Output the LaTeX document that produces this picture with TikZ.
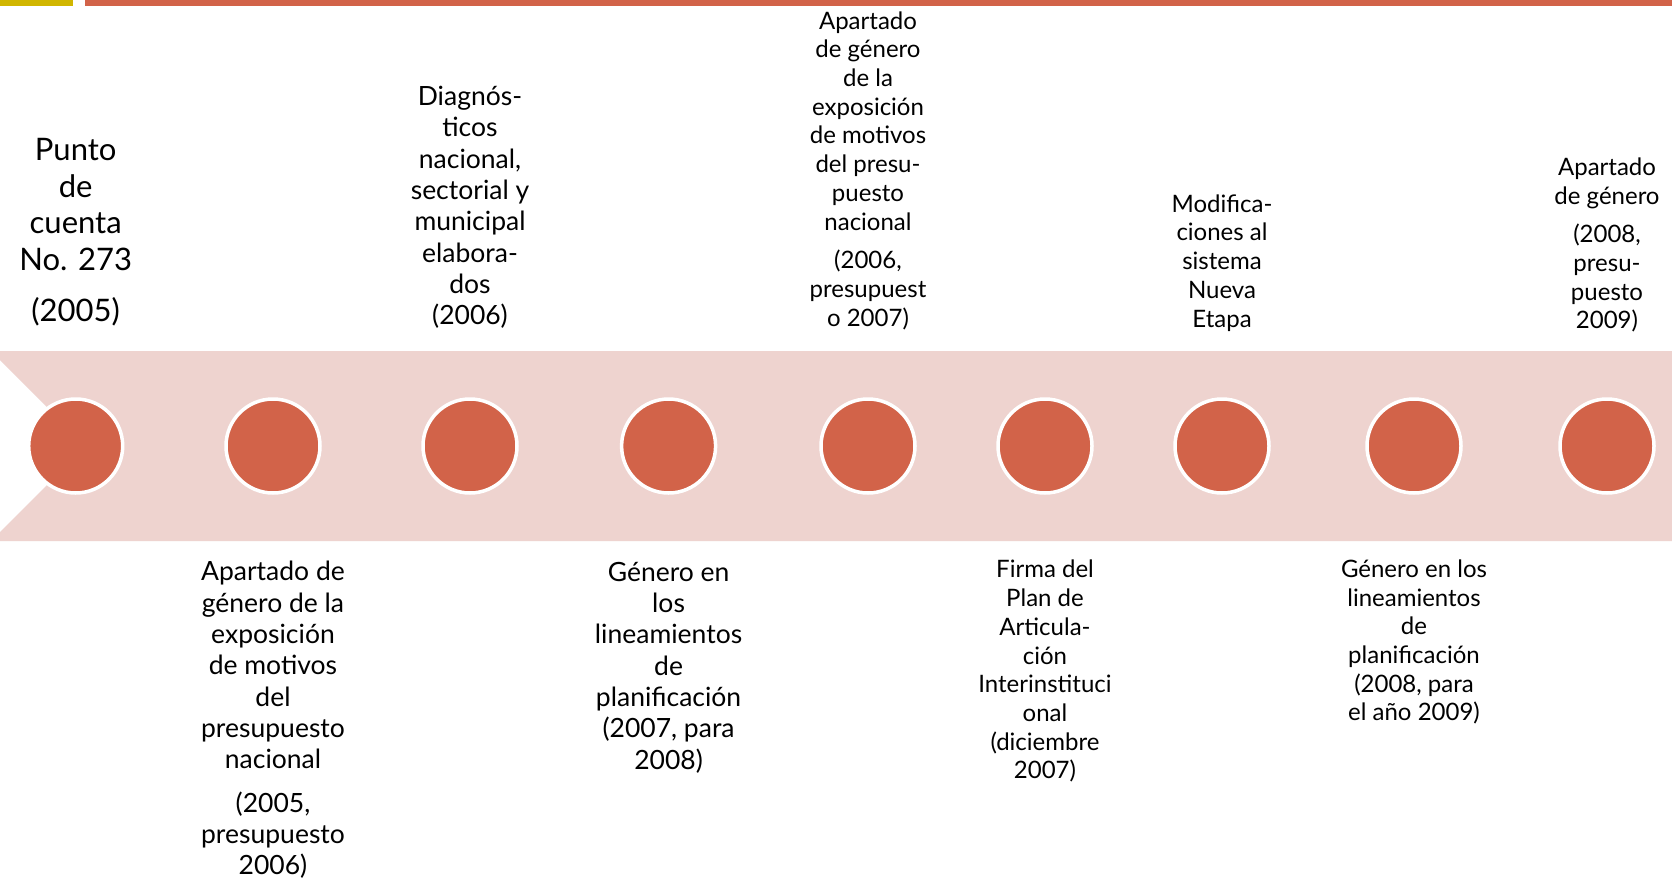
\documentclass[tikz,border=0pt]{standalone}
\usepackage{fontspec}
\setmainfont{Lato}
\definecolor{oriel}{HTML}{D26349}
\definecolor{bandc}{HTML}{EED3CF}
\definecolor{goldc}{HTML}{D1B600}
\tikzset{
  dot/.style={circle, fill=oriel, draw=white, line width=3.5pt, minimum size=94pt, inner sep=0pt},
  lbl/.style={align=center, text=black, inner sep=0pt},
  fa/.style={font=\fontsize{31}{36.6}\selectfont},
  fb/.style={font=\fontsize{26.5}{31.3}\selectfont},
  fc/.style={font=\fontsize{24}{28.7}\selectfont}
}
\begin{document}
\begin{tikzpicture}[x=1pt,y=-1pt]
\useasboundingbox (0,0) rectangle (1672,881);
\fill[white] (0,0) rectangle (1672,881);
\fill[goldc] (0,0) rectangle (73,6);
\fill[oriel] (85,0) rectangle (1672,6);
\fill[bandc] (0,351) -- (1672,351) -- (1672,541) -- (0,541) -- (0,532) -- (86,446) -- (0,360) -- cycle;
\foreach \n/\x in {1/75.7,2/273,3/470,4/668.6,5/868,6/1045,7/1222,8/1414,9/1607}
  \node[dot] (c\n) at (\x,446) {};
\node[lbl,fa] (t1) at (75.7,232) {Punto\\de\\cuenta\\No. 273\\[14pt](2005)};
\node[lbl,fb] (t2) at (273,720) {Apartado de\\género de la\\exposición\\de motivos\\del\\presupuesto\\nacional\\[12pt](2005,\\presupuesto\\2006)};
\node[lbl,fb] (t3) at (470,207.5) {Diagnós-\\ticos\\nacional,\\sectorial y\\municipal\\elabora-\\dos\\(2006)};
\node[lbl,fb] (t4) at (668.6,667.5) {Género en\\los\\lineamientos\\de\\planificación\\(2007, para\\2008)};
\node[lbl,fc] (t5) at (868,170.6) {Apartado\\de género\\de la\\exposición\\de motivos\\del presu-\\puesto\\nacional\\[10pt](2006,\\presupuest\\o 2007)};
\node[lbl,fc] (t6) at (1045,671.3) {Firma del\\Plan de\\Articula-\\ción\\Interinstituci\\onal\\(diciembre\\2007)};
\node[lbl,fc] (t7) at (1222,262.9) {Modifica-\\ciones al\\sistema\\Nueva\\Etapa};
\node[lbl,fc] (t8) at (1414,642) {Género en los\\lineamientos\\de\\planificación\\(2008, para\\el año 2009)};
\node[lbl,fc] (t9) at (1607,245) {Apartado\\de género\\[10pt](2008,\\presu-\\puesto\\2009)};
\end{tikzpicture}
\end{document}
